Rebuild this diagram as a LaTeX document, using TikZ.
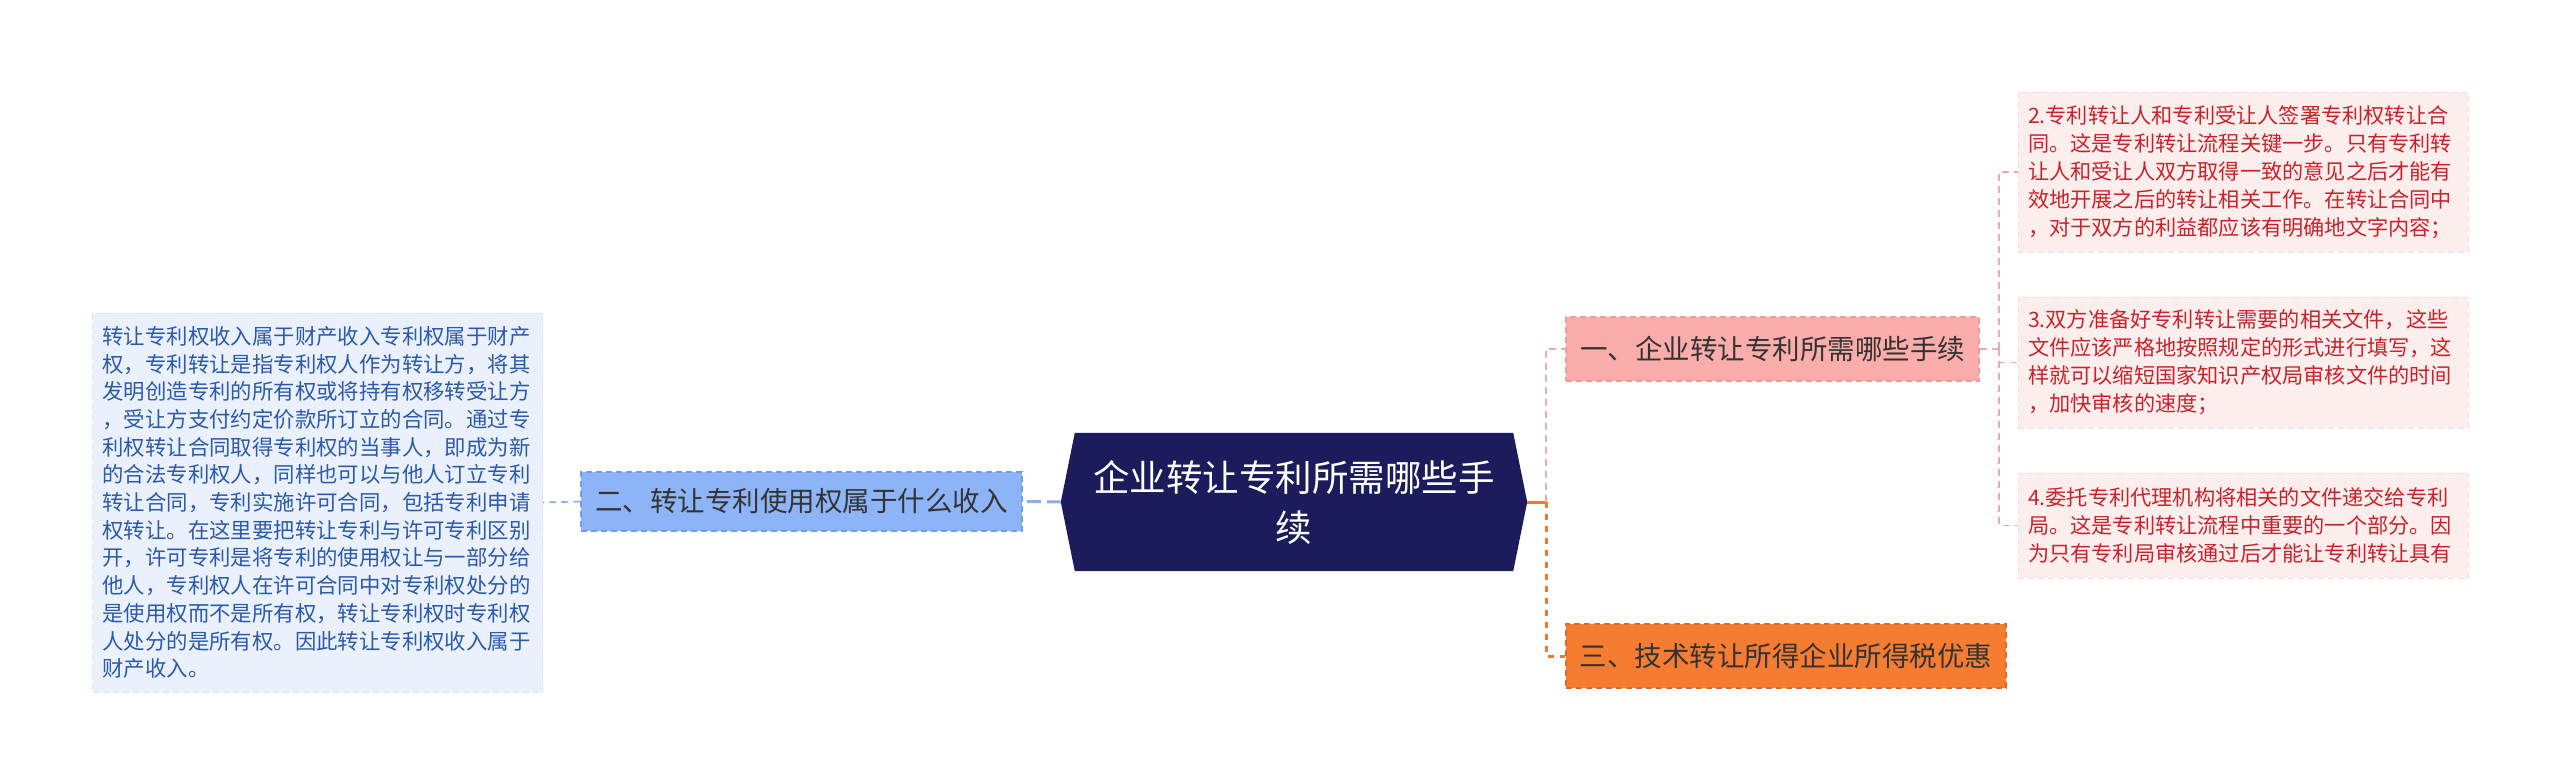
\documentclass[tikz,border=0pt]{standalone}
\usepackage{fontspec}
\setmainfont{Noto Sans CJK SC}
\pgfdeclarelayer{bg}
\pgfsetlayers{bg,main}
\definecolor{navy}{HTML}{1C1B5B}
\definecolor{bluenode}{HTML}{8DB4F7}
\definecolor{bluenodeb}{HTML}{6F9CEE}
\definecolor{blueleaf}{HTML}{EAF1FD}
\definecolor{blueleafb}{HTML}{D6E3FA}
\definecolor{bluetext}{HTML}{2C5AAA}
\definecolor{blueline}{HTML}{8AAEEC}
\definecolor{pinknode}{HTML}{FBADAB}
\definecolor{pinknodeb}{HTML}{F39A98}
\definecolor{pinkleaf}{HTML}{FDEEEE}
\definecolor{pinkleafb}{HTML}{F9DADA}
\definecolor{redtext}{HTML}{C8232B}
\definecolor{pinkline}{HTML}{F0A9B1}
\definecolor{orangenode}{HTML}{F67C32}
\definecolor{orangenodeb}{HTML}{E66A1E}
\definecolor{orangeline}{HTML}{F07A2A}
\definecolor{darktext}{HTML}{333333}
\tikzset{
  centre/.style={text=white, align=center, inner sep=0pt,
    minimum width=466pt, minimum height=138pt,
    font={\fontsize{36.5pt}{50pt}\selectfont}},
  topic/.style={draw, dashed, line width=1.5pt, dash pattern=on 6pt off 4pt,
    text=darktext, inner sep=0pt, minimum height=64pt,
    font={\fontsize{27.5pt}{33pt}\selectfont}},
  leafbox/.style={draw, dashed, line width=1pt, dash pattern=on 6pt off 4pt,
    align=left, inner xsep=10pt, inner ysep=0pt, text width=430pt},
  pinkdash/.style={pinkline, line width=1.7pt, dash pattern=on 7pt off 5pt},
  orangedash/.style={orangeline, line width=3pt, dash pattern=on 6pt off 6pt},
  bluedash/.style={blueline, line width=1.7pt, dash pattern=on 7pt off 5pt},
}
\begin{document}
\begin{tikzpicture}[x=1pt,y=-1pt]
\useasboundingbox (0,0) rectangle (2560,784);

% central node
\node[centre] (c) at (1294,502) {企业转让专利所需哪些手\\续};
\begin{pgfonlayer}{bg}
\fill[white] (0,0) rectangle (2560,784);
\fill[navy] ([xshift=14pt]c.north west) -- ([xshift=-14pt]c.north east) -- (c.east)
  -- ([xshift=-14pt]c.south east) -- ([xshift=14pt]c.south west) -- (c.west) -- cycle;
\end{pgfonlayer}

% left branch
\node[topic, draw=bluenodeb, fill=bluenode, minimum width=441pt, minimum height=59pt]
  (n2) at (801.5,501.5) {二、转让专利使用权属于什么收入};
\node[leafbox, draw=blueleafb, fill=blueleaf, text=bluetext, minimum width=449pt,
  minimum height=379pt, font={\fontsize{21.4pt}{27.7pt}\selectfont}]
  (l1) at (317.5,502.5) {转让专利权收入属于财产收入专利权属于财产\\
权，专利转让是指专利权人作为转让方，将其\\
发明创造专利的所有权或将持有权移转受让方\\
，受让方支付约定价款所订立的合同。通过专\\
利权转让合同取得专利权的当事人，即成为新\\
的合法专利权人，同样也可以与他人订立专利\\
转让合同，专利实施许可合同，包括专利申请\\
权转让。在这里要把转让专利与许可专利区别\\
开，许可专利是将专利的使用权让与一部分给\\
他人，专利权人在许可合同中对专利权处分的\\
是使用权而不是所有权，转让专利权时专利权\\
人处分的是所有权。因此转让专利权收入属于\\
财产收入。};

% right branch topics
\node[topic, draw=pinknodeb, fill=pinknode, minimum width=413pt]
  (n1) at (1772.5,349) {一、企业转让专利所需哪些手续};
\node[topic, draw=orangenodeb, fill=orangenode, minimum width=440pt]
  (n3) at (1786,656) {三、技术转让所得企业所得税优惠};

% right leaves
\tikzset{rleaf/.style={leafbox, draw=pinkleafb, fill=pinkleaf, text=redtext,
  minimum width=450pt, font={\fontsize{21.2pt}{28pt}\selectfont}}}
\node[rleaf, minimum height=160pt] (r2) at (2243,172) {2.专利转让人和专利受让人签署专利权转让合\\
同。这是专利转让流程关键一步。只有专利转\\
让人和受让人双方取得一致的意见之后才能有\\
效地开展之后的转让相关工作。在转让合同中\\
，对于双方的利益都应该有明确地文字内容；};
\node[rleaf, minimum height=131pt] (r3) at (2243,362.5) {3.双方准备好专利转让需要的相关文件，这些\\
文件应该严格地按照规定的形式进行填写，这\\
样就可以缩短国家知识产权局审核文件的时间\\
，加快审核的速度；};
\node[rleaf, minimum height=105pt] (r4) at (2243,525.5) {4.委托专利代理机构将相关的文件递交给专利\\
局。这是专利转让流程中重要的一个部分。因\\
为只有专利局审核通过后才能让专利转让具有};

% connectors
\draw[blueline, line width=3pt, dash pattern=on 14pt off 6pt] (c.west) -- (n2.east);
\draw[bluedash] (n2.west) -- (l1.east);

\coordinate (t1) at (1546,502);
\draw[orangeline, line width=3pt] (c.east) -- (t1);
\draw[pinkdash] (t1) |- (n1.west);
\draw[orangedash] (t1) |- (n3.west);

\coordinate (t2) at (1999,349);
\draw[pinkdash] (n1.east) -- (t2);
\draw[pinkdash] (t2) |- (r2.west);
\draw[pinkdash] (t2) |- (r3.west);
\draw[pinkdash] (t2) |- (r4.west);
\end{tikzpicture}
\end{document}
